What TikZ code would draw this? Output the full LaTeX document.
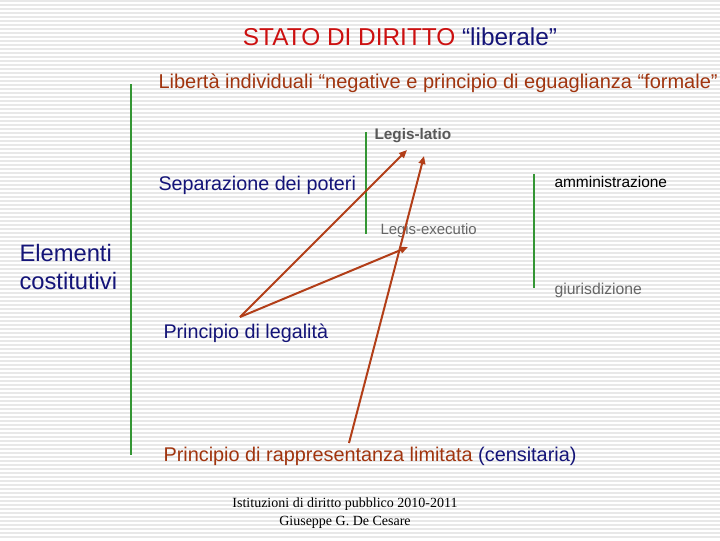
\documentclass[tikz,border=0pt]{standalone}
\usepackage{fontspec}
\setmainfont{Liberation Sans}
\newfontfamily\footfont{Liberation Serif}
\usetikzlibrary{arrows.meta}

\definecolor{titred}{RGB}{204,16,16}
\definecolor{navy}{RGB}{20,20,120}
\definecolor{brick}{RGB}{160,52,14}
\definecolor{arrowred}{RGB}{178,62,24}
\definecolor{greenline}{RGB}{52,150,52}
\definecolor{stripe}{RGB}{232,232,232}

\tikzset{every picture/.style={line width=0.75pt}}
\tikzset{
  txt/.style={anchor=base west,inner sep=0.75pt},
  grn/.style={draw=greenline,line width=1pt},
  arr/.style={draw=arrowred,line width=1.5pt,-{Triangle[length=6pt,width=5pt]}}
}

\begin{document}
\begin{tikzpicture}[x=0.75pt,y=0.75pt,yscale=-1,xscale=1]
%background stripes
\fill[white] (0,0) rectangle (720,540);
\foreach \y in {0,4,...,536} \fill[stripe] (0,\y) rectangle (720,\y+2);

% Text Node
\node (title) [anchor=base,inner sep=0.75pt,font=\fontsize{18.3}{22}\selectfont] at (400,45)
  {\color{titred}STATO DI DIRITTO \color{navy}“liberale”};
% Text Node
\node (liberta) [txt,text=brick,font=\fontsize{15}{18}\selectfont] at (157,88)
  {Libertà individuali “negative e principio di eguaglianza “formale”};
% Text Node
\node (latio) [txt,text=black!65,font=\fontsize{11.5}{14}\selectfont\bfseries] at (373,139) {Legis-latio};
% Text Node
\node (separ) [txt,text=navy,font=\fontsize{14.8}{18}\selectfont] at (157,190) {Separazione dei poteri};
% Text Node
\node (ammin) [txt,text=black,font=\fontsize{11.6}{14}\selectfont] at (553,187) {amministrazione};
% Text Node
\node (executio) [txt,text=black!60,font=\fontsize{11.2}{14}\selectfont] at (379,234) {Legis-executio};
% Text Node
\node (giuris) [txt,text=black!60,font=\fontsize{11.8}{14}\selectfont] at (553,294) {giurisdizione};
% Text Node
\node (elementi) [txt,text=navy,font=\fontsize{17.8}{21}\selectfont,align=left] at (18,289)
  {Elementi\\costitutivi};
% Text Node
\node (legalita) [txt,text=navy,font=\fontsize{14.8}{18}\selectfont] at (162,338) {Principio di legalità};
% Text Node
\node (rappres) [txt,font=\fontsize{14.9}{18}\selectfont] at (162,461)
  {\color{brick}Principio di rappresentanza limitata \color{navy}(censitaria)};
% Text Node
\node (footer) [anchor=base,inner sep=0.75pt,font=\footfont\fontsize{10.5}{13.5}\selectfont,align=center] at (345,525)
  {Istituzioni di diritto pubblico 2010-2011\\Giuseppe G. De Cesare};

%Straight Lines
\draw[grn] (131,84) -- (131,455);
%Straight Lines
\draw[grn] (366,132) -- (366,234);
%Straight Lines
\draw[grn] (534,174) -- (534,288);

\coordinate (legA) at (240,317);
\coordinate (rapA) at (349,443);
\coordinate (latioA) at (407,150);
\coordinate (latioB) at (424,156);
\coordinate (execA) at (408,247);

%Arrows
\draw[arr] (legA) -- (latioA);
\draw[arr] (legA) -- (execA);
\draw[arr] (rapA) -- (latioB);
\end{tikzpicture}
\end{document}
